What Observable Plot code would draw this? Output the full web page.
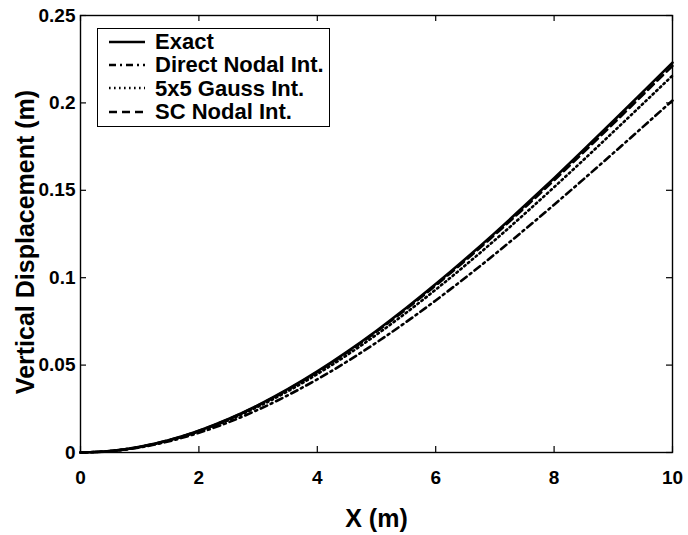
<!DOCTYPE html>
<html>
<head>
<meta charset="utf-8">
<script src="https://cdn.jsdelivr.net/npm/d3@7"></script>
<script src="https://cdn.jsdelivr.net/npm/@observablehq/plot@0.6"></script>
<style>
  html, body { margin: 0; padding: 0; background: #fff; }
  #wrap { position: relative; width: 688px; height: 535px; font-family: "Liberation Sans", Arial, Helvetica, sans-serif; }
  #legend {
    position: absolute; left: 97px; top: 28px; width: 233px; height: 99px;
    border: 1.5px solid #000; background: #fff; box-sizing: border-box;
    padding: 1px 0 0 11px;
  }
  .row { display: flex; align-items: center; height: 23.3px; }
  .row svg { width: 36px; height: 10px; margin-right: 10px; flex: none; }
  .row span { font-weight: bold; font-size: 22px; line-height: 23px; white-space: nowrap; color: #000; }
</style>
</head>
<body>
<div id="wrap"><div id="legend"></div></div>
<script>
// Deflection of the beam along its length, X in metres
const xs = [0, 0.5, 1, 1.5, 2, 2.5, 3, 3.5, 4, 4.5, 5, 5.5, 6, 6.5, 7, 7.5, 8, 8.5, 9, 9.5, 10];
const exact  = [0, 0.00082, 0.00323, 0.00715, 0.01249, 0.01916, 0.02709, 0.03620, 0.04638, 0.05758, 0.06969, 0.08264, 0.09634, 0.11071, 0.12566, 0.14112, 0.15699, 0.17320, 0.18966, 0.20629, 0.22300];
const direct = [0, 0.00074, 0.00292, 0.00646, 0.01128, 0.01730, 0.02446, 0.03269, 0.04188, 0.05199, 0.06293, 0.07462, 0.08700, 0.09997, 0.11347, 0.12743, 0.14176, 0.15640, 0.17126, 0.18628, 0.20137];
const gauss  = [0, 0.00079, 0.00312, 0.00691, 0.01208, 0.01853, 0.02620, 0.03501, 0.04485, 0.05568, 0.06739, 0.07991, 0.09316, 0.10706, 0.12151, 0.13646, 0.15181, 0.16748, 0.18340, 0.19948, 0.21564];
const scNodal = [0, 0.00081, 0.00320, 0.00709, 0.01239, 0.01901, 0.02687, 0.03591, 0.04601, 0.05712, 0.06913, 0.08198, 0.09557, 0.10982, 0.12465, 0.13999, 0.15573, 0.17181, 0.18814, 0.20464, 0.22122];

const seriesNames = ["Exact", "Direct Nodal Int.", "5x5 Gauss Int.", "SC Nodal Int."];
const xTicks = [0, 2, 4, 6, 8, 10];
const yTicks = [0, 0.05, 0.1, 0.15, 0.2, 0.25];

const dashes = {
  "Exact": null,
  "Direct Nodal Int.": "7,4,2,4",
  "5x5 Gauss Int.": "1.6,3.4",
  "SC Nodal Int.": "8,5"
};
const valuesByName = {
  "Exact": exact,
  "Direct Nodal Int.": direct,
  "5x5 Gauss Int.": gauss,
  "SC Nodal Int.": scNodal
};
const rows = seriesNames.flatMap(name => xs.map((x, i) => ({name, x, y: valuesByName[name][i]})));

const W = 688, H = 535;
const mL = 80, mR = 16, mT = 15, mB = 83;
const plotW = W - mL - mR, plotH = H - mT - mB;
const tickLen = 6;
const font = "Liberation Sans, Arial, Helvetica, sans-serif";

// draw order: the exact solution sits on top
const drawOrder = ["Direct Nodal Int.", "5x5 Gauss Int.", "SC Nodal Int.", "Exact"];

const chart = Plot.plot({
  width: W, height: H,
  marginLeft: mL, marginRight: mR, marginTop: mT, marginBottom: mB,
  style: {fontFamily: font, background: "#fff", color: "#000"},
  x: {domain: [0, 10]},
  y: {domain: [0, 0.25]},
  marks: [
    ...drawOrder.map(name => Plot.line(rows.filter(d => d.name === name), {
      x: "x", y: "y", curve: "natural",
      stroke: "#000", strokeWidth: 2.6,
      strokeDasharray: dashes[name] || undefined
    })),
    Plot.frame({stroke: "#000", strokeWidth: 1.4}),
    // inward ticks on all four sides
    Plot.tickX(xTicks, {x: d => d, insetTop: plotH - tickLen, stroke: "#000", strokeWidth: 1.2}),
    Plot.tickX(xTicks, {x: d => d, insetBottom: plotH - tickLen, stroke: "#000", strokeWidth: 1.2}),
    Plot.tickY(yTicks, {y: d => d, insetRight: plotW - tickLen, stroke: "#000", strokeWidth: 1.2}),
    Plot.tickY(yTicks, {y: d => d, insetLeft: plotW - tickLen, stroke: "#000", strokeWidth: 1.2}),
    Plot.axisX({ticks: xTicks, tickSize: 0, tickPadding: 18, fontSize: 19, fontWeight: "bold", label: null, tickFormat: d => String(d)}),
    Plot.axisY({ticks: yTicks, tickSize: 0, tickPadding: 5, fontSize: 19, fontWeight: "bold", label: null, tickFormat: d => String(d)}),
    Plot.text(["X (m)"], {frameAnchor: "bottom", dy: 74, fontSize: 25, fontWeight: "bold", fill: "#000"}),
    Plot.text(["Vertical Displacement (m)"], {frameAnchor: "left", textAnchor: "middle", dx: -55, dy: 8, rotate: -90, fontSize: 25, fontWeight: "bold", fill: "#000"})
  ]
});
document.getElementById("wrap").prepend(chart);

// legend
const legend = d3.select("#legend");
for (const name of seriesNames) {
  const row = legend.append("div").attr("class", "row");
  const s = row.append("svg").attr("viewBox", "0 0 36 10");
  s.append("line").attr("x1", 0).attr("x2", 36).attr("y1", 5).attr("y2", 5)
    .attr("stroke", "#000").attr("stroke-width", 2.6)
    .attr("stroke-dasharray", dashes[name]);
  row.append("span").text(name);
}
</script>
</body>
</html>
